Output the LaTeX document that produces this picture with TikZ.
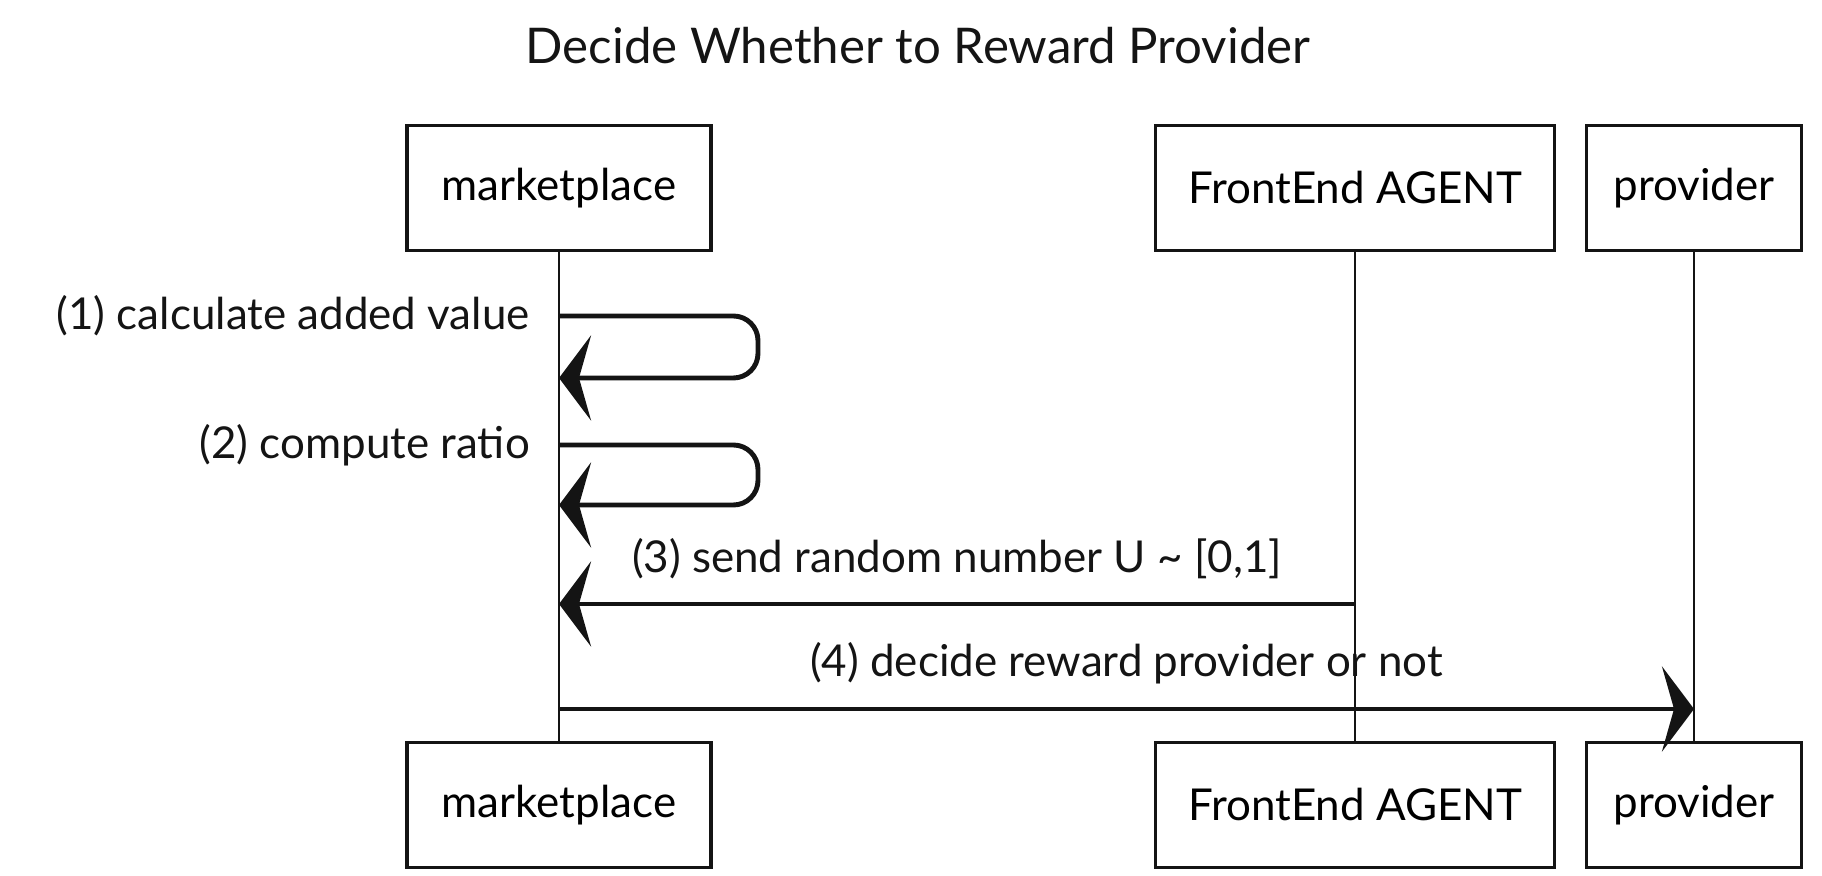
\documentclass[tikz,border=0pt]{standalone}
\usepackage{fontspec}
\setmainfont{Lato}
\usetikzlibrary{arrows.meta,positioning}
\definecolor{inkBlack}{RGB}{20,20,20}
\tikzset{
  actorBox/.style={draw=inkBlack,line width=1.1pt,minimum height=1.25cm,inner sep=2pt,font=\fontsize{12.5}{14}\selectfont},
  lifeLine/.style={draw=inkBlack,line width=0.6pt},
  msgArrow/.style={draw=inkBlack,line width=1.4pt,-{Stealth[length=0.32cm,width=0.85cm,inset=0.12cm]}},
  msgLabel/.style={font=\fontsize{12.5}{14}\selectfont,text=inkBlack,inner sep=3pt}
}

\begin{document}
\begin{tikzpicture}
\useasboundingbox (0,0) rectangle (18.22,-8.76);
\node[font=\fontsize{14}{16}\selectfont,text=inkBlack] (title) at (9.18,-0.46) {Decide Whether to Reward Provider};
% actors, top row
\node[actorBox,minimum width=3.04cm] (mktTop) at (5.59,-1.88) {marketplace};
\node[actorBox,minimum width=3.99cm] (feTop) at (13.55,-1.88) {FrontEnd AGENT};
\node[actorBox,minimum width=2.15cm] (provTop) at (16.94,-1.88) {provider};
% actors, bottom row
\node[actorBox,minimum width=3.04cm] (mktBot) at (5.59,-8.05) {marketplace};
\node[actorBox,minimum width=3.99cm] (feBot) at (13.55,-8.05) {FrontEnd AGENT};
\node[actorBox,minimum width=2.15cm] (provBot) at (16.94,-8.05) {provider};
% lifelines
\draw[lifeLine] (mktTop) -- (mktBot);
\draw[lifeLine] (feTop) -- (feBot);
\draw[lifeLine] (provTop) -- (provBot);
% message points
\coordinate (s1from) at (5.59,-3.16);
\coordinate (s1to) at (5.59,-3.78);
\coordinate (s2from) at (5.59,-4.45);
\coordinate (s2to) at (5.59,-5.05);
\coordinate (m3from) at (13.55,-6.04);
\coordinate (m3to) at (5.59,-6.04);
\coordinate (m4from) at (5.59,-7.09);
\coordinate (m4to) at (16.94,-7.09);
% (1) and (2): self calls
\draw[msgArrow,rounded corners=7pt] (s1from) -- (7.58,-3.16) -- (7.58,-3.78) -- (s1to);
\node[msgLabel,left=0.18cm of s1from] (lab1) {(1) calculate added value};
\draw[msgArrow,rounded corners=7pt] (s2from) -- (7.58,-4.45) -- (7.58,-5.05) -- (s2to);
\node[msgLabel,left=0.18cm of s2from] (lab2) {(2) compute ratio};
% (3) and (4)
\draw[msgArrow] (m3from) -- (m3to) node[msgLabel,midway,above=0.12cm] (lab3) {(3) send random number U \textasciitilde{} [0,1]};
\draw[msgArrow] (m4from) -- (m4to) node[msgLabel,midway,above=0.12cm] (lab4) {(4) decide reward provider or not};
\end{tikzpicture}
\end{document}
